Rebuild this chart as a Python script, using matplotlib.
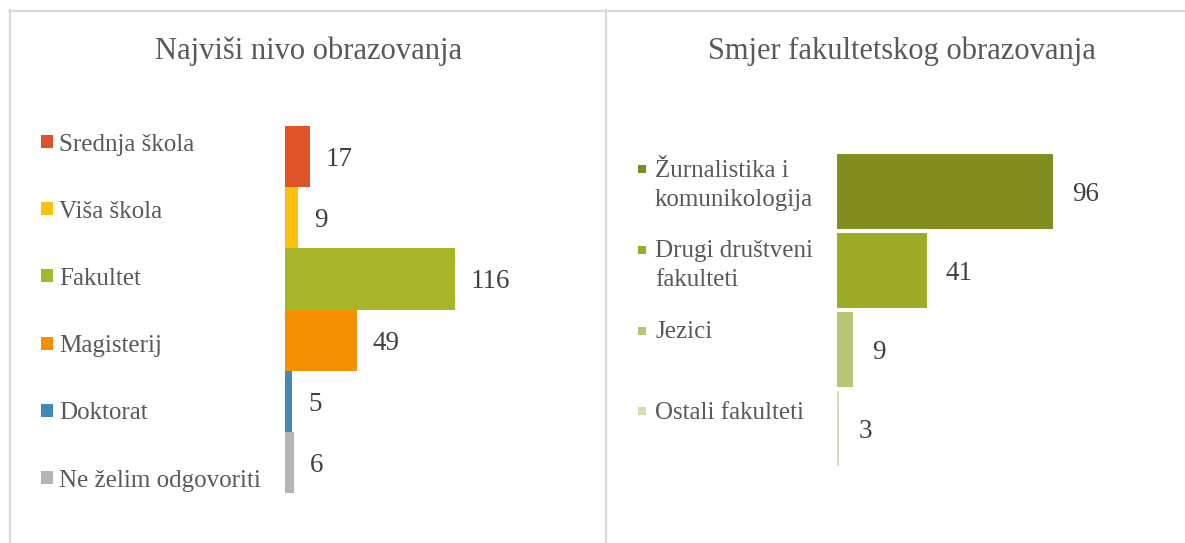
import numpy as np
import matplotlib as mpl
mpl.use("Agg")
from matplotlib import pyplot as plt
from matplotlib.patches import Rectangle
from matplotlib.lines import Line2D

# podaci - lijevi graf
nivo_naslov = "Najviši nivo obrazovanja"
nivo_kategorije = ["Srednja škola", "Viša škola", "Fakultet", "Magisterij",
                   "Doktorat", "Ne želim odgovoriti"]
nivo_vrijednosti = [17, 9, 116, 49, 5, 6]
nivo_boje = ["#E05227", "#FEC00E", "#A6B829", "#F59100", "#418AB3", "#B4B4B4"]

# podaci - desni graf
smjer_naslov = "Smjer fakultetskog obrazovanja"
smjer_kategorije = ["Žurnalistika i\nkomunikologija", "Drugi društveni\nfakulteti",
                    "Jezici", "Ostali fakulteti"]
smjer_vrijednosti = [96, 41, 9, 3]
smjer_boje = ["#818E1F", "#9DAB26", "#B8C574", "#D5DEB2"]

W, H = 1185, 543
plt.rcParams['font.family'] = ['Liberation Serif', 'DejaVu Serif']
SIVA = "#595959"
TAMNA = "#404040"


def fx(x):
    return x / W


def fy(y):
    return 1 - y / H


fig = plt.figure(figsize=(W / 100, H / 100), dpi=100)

# okvir
okvir = dict(color="#D9D9D9", linewidth=1.5, transform=fig.transFigure)
fig.add_artist(Line2D([fx(9), fx(1185)], [fy(10.5), fy(10.5)], **okvir))
fig.add_artist(Line2D([fx(9.5), fx(9.5)], [fy(10), fy(543)], **okvir))
fig.add_artist(Line2D([fx(606), fx(606)], [fy(10), fy(543)], **okvir))

# naslovi
fig.text(fx(308.5), fy(59), nivo_naslov, ha="center", va="baseline",
         fontsize=22, color=SIVA)
fig.text(fx(902), fy(59), smjer_naslov, ha="center", va="baseline",
         fontsize=22, color=SIVA)

# lijevi graf
ax1 = fig.add_axes([fx(285), fy(493), 300 / W, (493 - 126) / H])
y1 = np.arange(len(nivo_vrijednosti))
ax1.barh(y1, nivo_vrijednosti, height=1.0, color=nivo_boje)
ax1.set_xlim(0, 300 / 1.466)
ax1.set_ylim(len(y1) - 0.5, -0.5)
ax1.axis("off")
for i, v in enumerate(nivo_vrijednosti):
    ax1.annotate(str(v), xy=(v, i), xytext=(16, 0), textcoords="offset pixels",
                 ha="left", va="center_baseline", fontsize=19.5, color=TAMNA,
                 annotation_clip=False)

# legenda lijevo
for i, (naziv, boja) in enumerate(zip(nivo_kategorije, nivo_boje)):
    baza = 150.5 + 67.2 * i
    fig.add_artist(Rectangle((fx(41), fy(baza - 2.5)), 12 / W, 13 / H,
                             transform=fig.transFigure, color=boja, lw=0))
    fig.text(fx(59), fy(baza), naziv, ha="left", va="baseline",
             fontsize=18, color=SIVA)

# desni graf
ax2 = fig.add_axes([fx(834.6), fy(468), 300 / W, 316 / H])
y2 = np.arange(len(smjer_vrijednosti))
ax2.barh(y2, smjer_vrijednosti, height=1.0, color=smjer_boje,
         edgecolor="white", linewidth=2.9)
ax2.set_xlim(0, 300 / 2.297)
ax2.set_ylim(len(y2) - 0.5, -0.5)
ax2.axis("off")
for i, v in enumerate(smjer_vrijednosti):
    ax2.annotate(str(v), xy=(v, i), xytext=(17, 0), textcoords="offset pixels",
                 ha="left", va="center_baseline", fontsize=19.5, color=TAMNA,
                 annotation_clip=False)

# legenda desno
for i, (naziv, boja) in enumerate(zip(smjer_kategorije, smjer_boje)):
    baza = 176.6 + 80.7 * i
    fig.add_artist(Rectangle((fx(638.5), fy(baza - 3.5)), 8 / W, 8 / H,
                             transform=fig.transFigure, color=boja, lw=0))
    for k, red in enumerate(naziv.split("\n")):
        fig.text(fx(655), fy(baza + 29 * k), red, ha="left", va="baseline",
                 fontsize=18, color=SIVA)

fig.savefig("out.png", dpi=100, facecolor="white")
